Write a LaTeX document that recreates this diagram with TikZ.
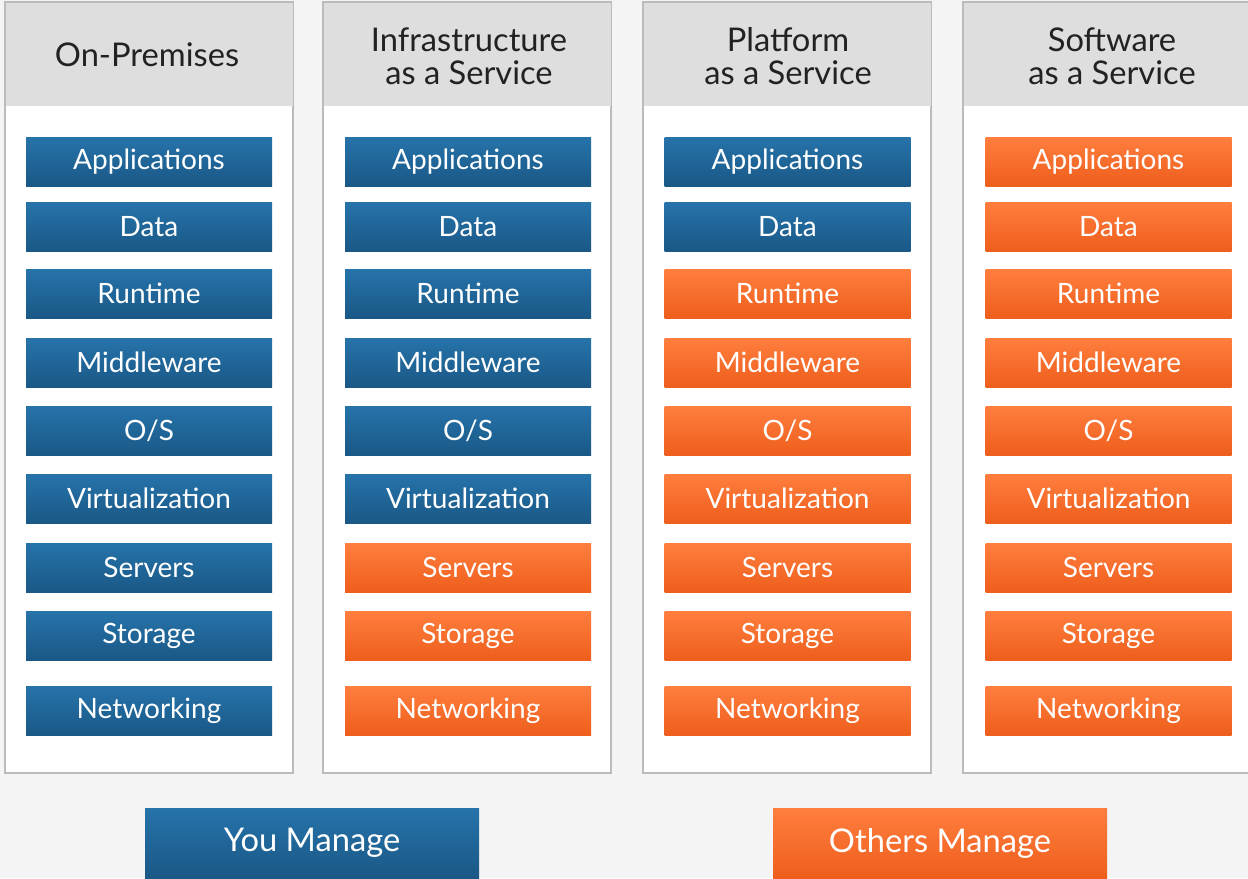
\documentclass[tikz,border=0pt]{standalone}
\usepackage{fontspec}
\setmainfont{Lato}
\definecolor{bgc}{HTML}{F4F4F4}
\definecolor{hdrc}{HTML}{DEDEDE}
\definecolor{colborder}{HTML}{BBBBBB}
\definecolor{bluetop}{HTML}{2673AA}
\definecolor{bluebot}{HTML}{1A5886}
\definecolor{orgtop}{HTML}{FF7E3E}
\definecolor{orgbot}{HTML}{EE5E1C}
\definecolor{hdrtext}{HTML}{222222}
\tikzset{
  px/.style={x=0.75pt,y=-0.75pt},
  colbox/.style={draw=colborder,line width=0.9pt,fill=white},
  hdrbox/.style={fill=hdrc},
  hdrtxt/.style={font=\fontsize{24.5}{24.75}\selectfont,text=hdrtext,align=center,inner sep=0pt},
  layer/.style={minimum width=184.5pt,minimum height=36.75pt,inner sep=0pt,text=white,
    font=\fontsize{21}{22}\selectfont},
  you/.style={layer,top color=bluetop,bottom color=bluebot},
  oth/.style={layer,top color=orgtop,bottom color=orgbot},
  legend/.style={minimum width=250.5pt,minimum height=52.5pt,inner sep=0pt,text=white,
    font=\fontsize{24.5}{27}\selectfont},
}
\begin{document}
\begin{tikzpicture}[px]
\useasboundingbox (0,0) rectangle (1248,878);
\fill[bgc] (0,0) rectangle (1248,878);
% columns
\foreach \cx [count=\i] in {5,323,643,963}{
  \draw[colbox] (\cx,2) rectangle ++(288,771);
  \fill[hdrbox] ([xshift=0.5,yshift=-0.5]\cx,2) rectangle ++(287,103);
}
% headers
\node[hdrtxt] (h1) at (147,55) {On-Premises};
\node[hdrtxt] (h2) at (469,56) {Infrastructure\\as a Service};
\node[hdrtxt] (h3) at (788,56) {Platform\\as a Service};
\node[hdrtxt] (h4) at (1112,56) {Software\\as a Service};
% layers
\foreach \yy/\lab [count=\r] in {161.5/Applications,226.5/Data,293.5/Runtime,362.5/Middleware,430.5/{O/S},498.5/Virtualization,567.5/Servers,635.5/Storage,710.5/Networking}{
  \node[you] (a\r) at (149,\yy) {\lab};
  \ifnum\r<7 \node[you] (b\r) at (468,\yy) {\lab};\else \node[oth] (b\r) at (468,\yy) {\lab};\fi
  \ifnum\r<3 \node[you] (c\r) at (787.5,\yy) {\lab};\else \node[oth] (c\r) at (787.5,\yy) {\lab};\fi
  \node[oth] (d\r) at (1108.5,\yy) {\lab};
}
% legend
\node[legend,top color=bluetop,bottom color=bluebot] (you) at (312,843) {You Manage};
\node[legend,top color=orgtop,bottom color=orgbot] (others) at (940,843) {Others Manage};
\end{tikzpicture}
\end{document}
